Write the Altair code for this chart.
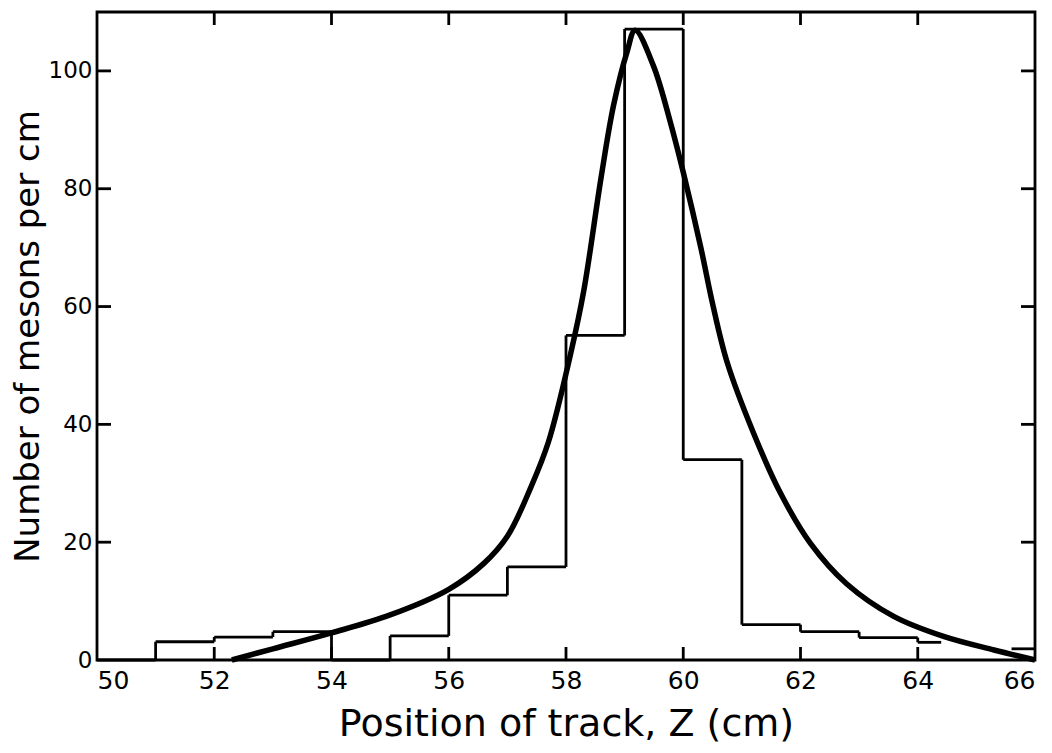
import altair as alt
import pandas as pd

# Histogram bins (cm) and counts (mesons per cm)
bin_lo = [50, 51, 52, 53, 54, 55, 56, 57, 58, 59, 60, 61, 62, 63, 64, 65.6]
bin_hi = [51, 52, 53, 54, 55, 56, 57, 58, 59, 60, 61, 62, 63, 64, 64.4, 66]
counts = [0, 3.1, 3.9, 4.8, 0, 4.1, 11.0, 15.8, 55.1, 107.1, 34.0, 6.0, 4.8, 3.8, 3.0, 1.9]

# Fitted curve
curve_x = [52.3, 53.0, 54.0, 55.0, 56.0, 56.6, 57.0, 57.4, 57.7, 58.07, 58.3, 58.6,
           58.81, 59.04, 59.18, 59.49, 59.78, 60.0, 60.3, 60.5, 60.75, 61.2, 61.66,
           62.17, 62.79, 63.59, 64.44, 65.3, 66.0]
curve_y = [0.0, 1.9, 4.6, 7.65, 12.0, 16.4, 21.0, 29.3, 37.0, 51.6, 62.5, 82.0,
           94.1, 103.2, 106.9, 100.9, 91.3, 82.8, 70.0, 60.5, 50.5, 38.5, 28.3,
           19.8, 12.9, 7.4, 4.0, 1.7, 0.0]

x_ticks = [50, 52, 54, 56, 58, 60, 62, 64, 66]
y_ticks = [0, 20, 40, 60, 80, 100]

X_MIN, X_MAX = 50, 66
Y_MIN, Y_MAX = 0, 110
W, H = 938, 648
FONT = "DejaVu Sans"

# tick lengths converted to data units
tx = 14 * (X_MAX - X_MIN) / W
ty = 13 * (Y_MAX - Y_MIN) / H

segs = []
for lo, hi, c in zip(bin_lo, bin_hi, counts):
    segs.append(dict(x=lo, x2=hi, y=c, y2=c))
for i in range(1, len(bin_lo)):
    if bin_lo[i] == bin_hi[i - 1]:
        a, b = counts[i - 1], counts[i]
        segs.append(dict(x=bin_lo[i], x2=bin_lo[i], y=min(a, b), y2=max(a, b)))
for v in x_ticks[1:-1]:
    segs.append(dict(x=v, x2=v, y=Y_MIN, y2=Y_MIN + ty))
    segs.append(dict(x=v, x2=v, y=Y_MAX, y2=Y_MAX - ty))
for v in y_ticks[1:]:
    segs.append(dict(x=X_MIN, x2=X_MIN + tx, y=v, y2=v))
    segs.append(dict(x=X_MAX, x2=X_MAX - tx, y=v, y2=v))
seg_df = pd.DataFrame(segs)

curve_df = pd.DataFrame({"x": curve_x, "y": curve_y})

xscale = alt.Scale(domain=[X_MIN, X_MAX], nice=False, zero=False)
yscale = alt.Scale(domain=[Y_MIN, Y_MAX], nice=False, zero=False)

xaxis = alt.Axis(values=x_ticks, format="d", tickSize=0, domain=False, grid=False,
                 labelFontSize=25, labelFont=FONT, labelPadding=8, labelColor="black",
                 title="Position of track, Z (cm)", titleFont=FONT, titleFontSize=38,
                 titleFontWeight="normal", titlePadding=12, titleColor="black")
yaxis = alt.Axis(values=y_ticks, format="d", tickSize=0, domain=False, grid=False,
                 labelFontSize=23, labelFont=FONT, labelPadding=5, labelColor="black",
                 title="Number of mesons per cm", titleFont=FONT, titleFontSize=34,
                 titleFontWeight="normal", titlePadding=3, titleColor="black")

rules = alt.Chart(seg_df).mark_rule(color="black", strokeWidth=2.8).encode(
    x=alt.X("x:Q", scale=xscale, axis=xaxis),
    x2="x2:Q",
    y=alt.Y("y:Q", scale=yscale, axis=yaxis),
    y2="y2:Q",
)

curve = alt.Chart(curve_df).mark_line(color="black", strokeWidth=5.5, interpolate="catmull-rom").encode(
    x=alt.X("x:Q", scale=xscale),
    y=alt.Y("y:Q", scale=yscale),
)

chart = alt.layer(rules, curve).properties(
    width=W, height=H,
    background="white",
    autosize=alt.AutoSizeParams(type="none"),
    padding={"left": 89, "top": 4, "right": 9, "bottom": 85},
).configure_view(stroke="black", strokeWidth=2.8)

chart.save("out.html", embed_options={"renderer": "svg", "actions": False})
